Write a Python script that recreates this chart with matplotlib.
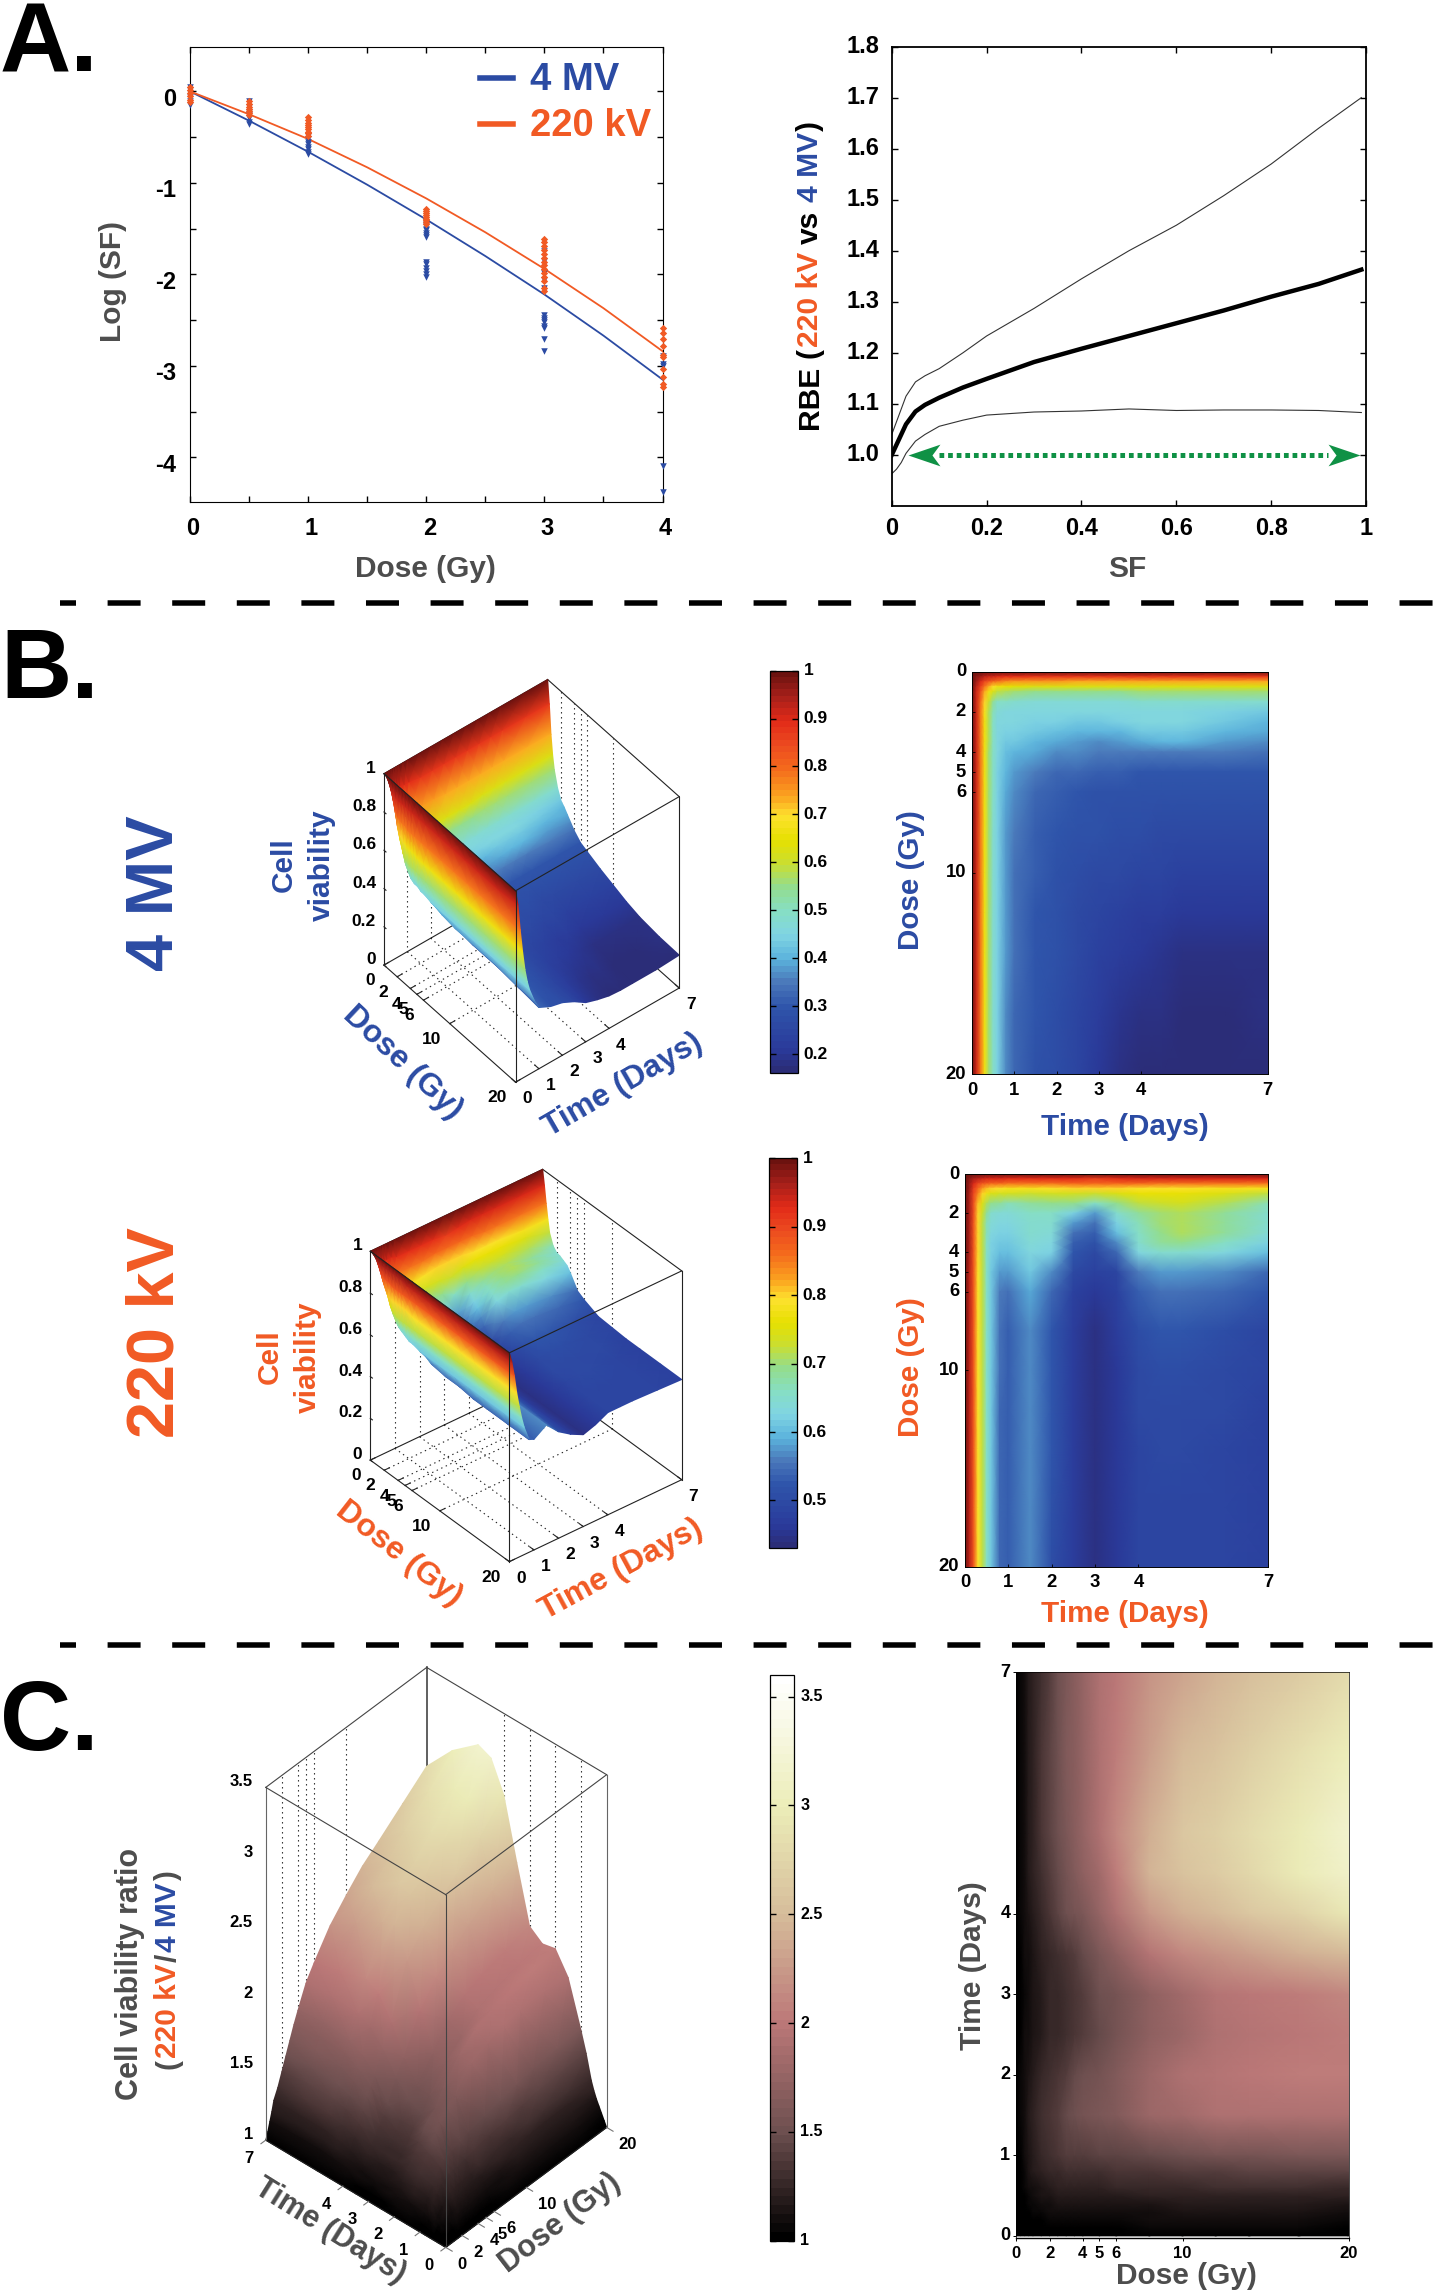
import numpy as np
import matplotlib
matplotlib.use("Agg")
import matplotlib.pyplot as plt
from matplotlib.colors import LinearSegmentedColormap, Normalize
from matplotlib.cm import ScalarMappable
from matplotlib.lines import Line2D
from matplotlib.path import Path as MplPath
from mpl_toolkits.mplot3d import proj3d

plt.rcParams['font.family'] = ['Liberation Sans', 'DejaVu Sans']
plt.rcParams['font.weight'] = 'bold'
plt.rcParams['lines.scale_dashes'] = False

W, H = 1435, 2291
BLUE = "#2b4ba3"
ORANGE = "#f15a24"
GRAY = "#4d4d4d"
GREEN = "#0f9145"

# ---- panel A data
FIT_DOSE = [0, 0.5, 1, 1.5, 2, 2.5, 3, 3.5, 4]
FIT_4MV = [0.0, -0.32, -0.66, -1.02, -1.40, -1.80, -2.22, -2.67, -3.15]
FIT_220KV = [0.0, -0.25, -0.52, -0.83, -1.17, -1.54, -1.94, -2.37, -2.84]

PTS_4MV_DOSE = [0]*6 + [0.5]*7 + [1]*8 + [2]*7 + [2]*6 + [3]*5 + [3]*8 + [4]*5
PTS_4MV_LOG = [0.05, 0.02, -0.02, -0.06, -0.1, -0.15,
               -0.11, -0.17, -0.22, -0.26, -0.29, -0.33, -0.36,
               -0.49, -0.52, -0.55, -0.58, -0.61, -0.63, -0.66, -0.68,
               -1.45, -1.47, -1.5, -1.52, -1.55, -1.57, -1.59,
               -1.86, -1.89, -1.93, -1.96, -2.0, -2.03,
               -1.74, -1.85, -1.98, -2.06, -2.15,
               -2.44, -2.48, -2.52, -2.56, -2.59, -2.71, -2.84, -2.5,
               -2.89, -2.98, -3.0, -4.09, -4.38]
PTS_220_DOSE = [0]*6 + [0.5]*7 + [1]*9 + [2]*9 + [3]*14 + [4]*10
PTS_220_LOG = [0.05, 0.02, -0.02, -0.05, -0.09, -0.12,
               -0.11, -0.14, -0.17, -0.19, -0.21, -0.24, -0.26,
               -0.28, -0.31, -0.34, -0.37, -0.39, -0.41, -0.44, -0.46, -0.49,
               -1.29, -1.31, -1.33, -1.35, -1.37, -1.39, -1.41, -1.43, -1.45,
               -1.61, -1.65, -1.69, -1.73, -1.78, -1.82, -1.86, -1.9, -1.94, -1.98,
               -2.03, -2.07, -2.15, -2.18,
               -2.59, -2.64, -2.71, -2.78, -2.88, -2.9, -3.03, -3.12, -3.2, -3.23]

SF = [0, 0.01, 0.02, 0.03, 0.05, 0.07, 0.1, 0.15, 0.2, 0.3, 0.4, 0.5, 0.6, 0.7, 0.8, 0.9, 0.99]
RBE_MEAN = [1.0, 1.02, 1.04, 1.06, 1.085, 1.098, 1.112, 1.132, 1.149, 1.182, 1.208, 1.233, 1.258, 1.283, 1.31, 1.335, 1.363]
RBE_HIGH = [1.04, 1.065, 1.09, 1.115, 1.143, 1.155, 1.169, 1.2, 1.233, 1.287, 1.345, 1.40, 1.45, 1.508, 1.57, 1.64, 1.70]
RBE_LOW = [0.963, 0.972, 0.985, 1.003, 1.027, 1.04, 1.056, 1.068, 1.078, 1.084, 1.086, 1.09, 1.087, 1.088, 1.088, 1.087, 1.083]

# ---- panels B and C data: viability on a dose x time grid
DOSE = [0, 0.25, 0.5, 0.75, 1, 1.5, 2, 2.5, 3, 3.5, 4, 5, 6, 8, 10, 12, 14, 17, 20]
TIME = [0, 0.1, 0.2, 0.3, 0.4, 0.5, 0.6, 0.8, 1, 1.5, 2, 2.5, 3, 3.5, 4, 4.5, 5, 6, 7]
DOSE_TICKS = [0, 2, 4, 5, 6, 10, 20]
TIME_TICKS = [0, 1, 2, 3, 4, 7]

VIAB_4MV = np.array([
    [1, 1, 1, 1, 1, 1, 1, 1, 1, 1, 1, 1, 1, 1, 1, 1, 1, 1, 1],
    [1, .97, .95, .93, .92, .91, .90, .89, .89, .88, .88, .88, .88, .88, .88, .88, .88, .88, .88],
    [1, .95, .90, .85, .82, .80, .78, .76, .75, .74, .74, .73, .73, .73, .73, .73, .73, .73, .73],
    [1, .93, .86, .78, .73, .69, .67, .65, .64, .63, .62, .62, .62, .62, .63, .63, .63, .63, .63],
    [1, .92, .83, .73, .66, .62, .59, .57, .56, .55, .55, .55, .55, .55, .56, .56, .56, .56, .56],
    [1, .91, .80, .70, .60, .54, .50, .49, .48, .47, .47, .47, .47, .47, .48, .48, .48, .48, .48],
    [1, .91, .79, .68, .58, .51, .47, .46, .46, .45, .45, .45, .45, .45, .45, .45, .45, .44, .43],
    [1, .91, .79, .67, .57, .50, .46, .45, .45, .44, .44, .43, .43, .44, .45, .45, .45, .43, .41],
    [1, .91, .78, .67, .57, .50, .46, .44, .44, .43, .42, .41, .40, .41, .43, .43, .43, .41, .385],
    [1, .91, .78, .67, .57, .49, .45, .43, .43, .41, .39, .38, .37, .38, .39, .40, .40, .38, .36],
    [1, .91, .78, .66, .56, .49, .45, .42, .41, .39, .37, .36, .35, .35, .35, .35, .35, .345, .335],
    [1, .91, .78, .66, .56, .49, .44, .40, .38, .35, .33, .32, .31, .31, .30, .30, .30, .30, .30],
    [1, .91, .78, .66, .56, .49, .44, .39, .37, .33, .31, .30, .29, .29, .285, .28, .28, .28, .285],
    [1, .91, .78, .66, .56, .48, .44, .38, .35, .31, .30, .29, .28, .275, .27, .265, .26, .26, .255],
    [1, .91, .78, .66, .56, .48, .44, .38, .34, .31, .29, .275, .265, .255, .245, .24, .235, .23, .23],
    [1, .91, .78, .66, .56, .48, .44, .38, .34, .30, .28, .265, .25, .235, .225, .215, .21, .205, .205],
    [1, .91, .78, .66, .56, .48, .44, .38, .34, .30, .28, .255, .235, .22, .205, .195, .185, .185, .187],
    [1, .91, .78, .66, .56, .48, .44, .37, .33, .30, .275, .25, .22, .20, .185, .175, .17, .17, .175],
    [1, .92, .78, .66, .56, .49, .44, .37, .32, .29, .275, .245, .205, .185, .17, .165, .165, .165, .172],
])

VIAB_220KV = np.array([
    [1, 1, 1, 1, 1, 1, 1, 1, 1, 1, 1, 1, 1, 1, 1, 1, 1, 1, 1],
    [1, .98, .96, .95, .94, .93, .93, .93, .92, .92, .92, .92, .91, .92, .93, .93, .93, .93, .93],
    [1, .97, .93, .90, .88, .87, .86, .86, .85, .85, .85, .86, .86, .86, .86, .85, .85, .85, .85],
    [1, .97, .91, .86, .83, .81, .80, .79, .78, .78, .79, .80, .80, .80, .79, .79, .79, .78, .78],
    [1, .96, .90, .84, .80, .77, .75, .74, .74, .73, .74, .74, .73, .75, .76, .76, .76, .75, .72],
    [1, .96, .89, .81, .75, .71, .69, .68, .67, .68, .69, .69, .66, .69, .72, .73, .74, .71, .67],
    [1, .96, .89, .80, .73, .68, .65, .64, .64, .66, .66, .62, .58, .65, .68, .70, .71, .68, .65],
    [1, .96, .88, .80, .72, .67, .64, .63, .63, .65, .65, .58, .55, .62, .67, .70, .71, .68, .645],
    [1, .96, .88, .80, .72, .67, .63, .62, .62, .645, .64, .55, .53, .60, .66, .69, .71, .68, .635],
    [1, .96, .88, .80, .72, .66, .62, .615, .61, .635, .63, .53, .515, .57, .65, .68, .69, .66, .625],
    [1, .96, .88, .80, .72, .66, .62, .60, .60, .63, .62, .52, .50, .54, .63, .65, .65, .63, .60],
    [1, .95, .88, .79, .72, .66, .61, .58, .58, .61, .57, .495, .48, .49, .56, .58, .58, .57, .54],
    [1, .95, .88, .79, .72, .66, .61, .56, .55, .59, .54, .48, .465, .48, .53, .55, .55, .54, .52],
    [1, .95, .88, .79, .72, .66, .61, .55, .53, .57, .52, .47, .445, .47, .51, .52, .52, .51, .49],
    [1, .95, .88, .79, .72, .66, .61, .55, .53, .57, .52, .47, .44, .46, .50, .51, .51, .50, .485],
    [1, .95, .88, .79, .72, .66, .61, .54, .53, .57, .52, .47, .44, .46, .495, .50, .50, .495, .48],
    [1, .95, .88, .79, .72, .66, .61, .54, .53, .57, .52, .47, .44, .46, .49, .495, .495, .49, .48],
    [1, .95, .88, .79, .72, .66, .61, .54, .53, .57, .515, .47, .44, .46, .49, .49, .49, .49, .48],
    [1, .95, .88, .79, .72, .66, .61, .54, .53, .57, .51, .47, .44, .46, .49, .49, .49, .485, .48],
])

RATIO = np.array([
    [1, 1, 1, 1, 1, 1, 1, 1, 1, 1, 1, 1, 1, 1, 1, 1, 1, 1, 1],
    [1, 1, 1, 1, 1.01, 1.01, 1.02, 1.03, 1.04, 1.05, 1.05, 1.04, 1.04, 1.04, 1.05, 1.05, 1.05, 1.05, 1.05],
    [1, 1, 1.01, 1.02, 1.03, 1.04, 1.05, 1.08, 1.11, 1.12, 1.11, 1.09, 1.08, 1.09, 1.1, 1.11, 1.12, 1.12, 1.11],
    [1, 1, 1.02, 1.03, 1.05, 1.07, 1.09, 1.13, 1.16, 1.17, 1.16, 1.12, 1.11, 1.12, 1.15, 1.17, 1.18, 1.18, 1.17],
    [1, 1.01, 1.03, 1.05, 1.07, 1.09, 1.12, 1.17, 1.2, 1.22, 1.2, 1.15, 1.15, 1.15, 1.2, 1.22, 1.24, 1.24, 1.24],
    [1, 1.01, 1.04, 1.07, 1.1, 1.13, 1.16, 1.22, 1.26, 1.29, 1.26, 1.2, 1.2, 1.21, 1.28, 1.31, 1.33, 1.33, 1.31],
    [1, 1.02, 1.05, 1.09, 1.12, 1.16, 1.2, 1.27, 1.3, 1.35, 1.3, 1.25, 1.25, 1.25, 1.35, 1.4, 1.42, 1.42, 1.4],
    [1, 1.02, 1.06, 1.09, 1.13, 1.17, 1.21, 1.28, 1.35, 1.4, 1.35, 1.27, 1.27, 1.3, 1.42, 1.47, 1.5, 1.51, 1.49],
    [1, 1.03, 1.07, 1.1, 1.14, 1.18, 1.22, 1.3, 1.38, 1.45, 1.4, 1.3, 1.3, 1.35, 1.5, 1.55, 1.6, 1.61, 1.58],
    [1, 1.03, 1.07, 1.1, 1.14, 1.18, 1.23, 1.31, 1.39, 1.5, 1.45, 1.35, 1.35, 1.4, 1.55, 1.62, 1.68, 1.69, 1.67],
    [1, 1.03, 1.07, 1.1, 1.15, 1.19, 1.23, 1.31, 1.4, 1.55, 1.5, 1.4, 1.4, 1.45, 1.6, 1.7, 1.75, 1.77, 1.75],
    [1, 1.04, 1.08, 1.11, 1.15, 1.2, 1.24, 1.32, 1.42, 1.6, 1.55, 1.45, 1.5, 1.6, 1.75, 1.85, 1.9, 1.91, 1.9],
    [1, 1.04, 1.08, 1.12, 1.16, 1.2, 1.25, 1.34, 1.44, 1.65, 1.65, 1.55, 1.55, 1.7, 1.9, 2.05, 2.1, 2.05, 2.0],
    [1, 1.05, 1.09, 1.12, 1.16, 1.21, 1.27, 1.36, 1.47, 1.8, 1.8, 1.7, 1.7, 1.95, 2.25, 2.45, 2.42, 2.3, 2.18],
    [1, 1.05, 1.09, 1.13, 1.17, 1.22, 1.28, 1.38, 1.5, 1.85, 1.9, 1.8, 1.85, 2.1, 2.4, 2.58, 2.6, 2.47, 2.31],
    [1, 1.05, 1.09, 1.14, 1.18, 1.23, 1.29, 1.4, 1.53, 1.9, 1.95, 1.9, 1.95, 2.2, 2.5, 2.65, 2.67, 2.58, 2.43],
    [1, 1.05, 1.1, 1.14, 1.19, 1.24, 1.3, 1.42, 1.55, 1.92, 1.98, 1.95, 2.0, 2.3, 2.6, 2.78, 2.8, 2.7, 2.52],
    [1, 1.05, 1.1, 1.14, 1.19, 1.24, 1.3, 1.43, 1.57, 1.92, 2.02, 2.0, 2.05, 2.42, 2.74, 2.95, 2.98, 2.85, 2.66],
    [1, 1.04, 1.08, 1.12, 1.16, 1.21, 1.27, 1.44, 1.58, 1.9, 2.05, 2.03, 2.1, 2.5, 2.92, 3.13, 3.17, 3.02, 2.8],
])

# colour scales, 64 levels like the original
JET_STOPS = [(0.0, "#2b2d78"), (0.05, "#2a3a9a"), (0.16, "#2f55ab"), (0.22, "#4a78ba"),
             (0.28, "#5bb3dc"), (0.34, "#80d5e3"), (0.40, "#86dec4"), (0.46, "#93dd8e"),
             (0.52, "#cade30"), (0.58, "#e6e000"), (0.64, "#fde12e"), (0.69, "#fba31f"),
             (0.76, "#f46a1c"), (0.82, "#ec4a20"), (0.88, "#e22a18"), (0.94, "#a8201a"),
             (1.0, "#6c120f")]
PINK_STOPS = [(0.0, "#000000"), (0.19, "#6e5050"), (0.385, "#bc7878"), (0.577, "#d6bc9a"),
              (0.77, "#ecedb8"), (1.0, "#ffffff")]
jet64 = LinearSegmentedColormap.from_list("jet64", JET_STOPS, N=64)
pink64 = LinearSegmentedColormap.from_list("pink64", PINK_STOPS, N=64)

fig = plt.figure(figsize=((W + 0.1) / 100, (H + 0.1) / 100), dpi=100)
renderer = fig.canvas.get_renderer()


def rect(x0, y0, x1, y1):
    return [x0 / W, 1 - y1 / H, (x1 - x0) / W, (y1 - y0) / H]


def put(x, y, s, **kw):
    kw.setdefault("ha", "center")
    kw.setdefault("va", "center")
    return fig.text(x / W, 1 - y / H, s, **kw)


def stacked(x, y_bottom, parts, size):
    # rotated label whose words have different colours
    y = y_bottom
    for s, c, gap in parts:
        t = put(x, y, s, rotation=90, va="bottom", color=c, fontsize=size)
        y -= t.get_window_extent(renderer).height + gap


def offset_label(ax, xy, s, dx, dy, coords="data", **kw):
    kw.setdefault("fontsize", 17)
    ax.annotate(s, xy=xy, xycoords=coords, xytext=(dx, dy), textcoords="offset pixels",
                annotation_clip=False, **kw)


# ---- panel letters and separators
for letter, base in (("A.", 71), ("B.", 698), ("C.", 1750)):
    put(0, base, letter, ha="left", va="baseline", fontsize=71, color="black")

for y in (603.5, 1644.7):
    fig.add_artist(Line2D([60 / W, 1], [1 - y / H, 1 - y / H], transform=fig.transFigure,
                          color="black", lw=3.96, dash_capstyle="butt",
                          linestyle=(12.24, (23.76, 22.75))))

# ---- A left, survival curves
ax = fig.add_axes(rect(190, 46.7, 662.5, 502.2))
ax.plot(FIT_DOSE, FIT_4MV, color=BLUE, lw=1.3)
ax.plot(FIT_DOSE, FIT_220KV, color=ORANGE, lw=1.3)
ax.scatter(PTS_4MV_DOSE, PTS_4MV_LOG, marker="v", s=22, color=BLUE, lw=0, clip_on=False, zorder=3)
ax.scatter(PTS_220_DOSE, PTS_220_LOG, marker="D", s=14, color=ORANGE, lw=0, clip_on=False, zorder=4)
ax.set_xlim(0, 4)
ax.set_ylim(-4.49, 0.49)
ax.set_xticks(np.arange(0, 4.1, 0.5))
ax.set_yticks(np.arange(-4, 0.1, 0.5))
ax.set_xticklabels([])
ax.set_yticklabels([])
ax.tick_params(direction="in", length=4, width=1, top=True, right=True)
for v in range(0, 5):
    offset_label(ax, (v, 0), str(v), 3, -26, coords=("data", "axes fraction"), ha="center", va="center")
for v in range(-4, 1):
    offset_label(ax, (0, v), str(v), -14, -8, coords=("axes fraction", "data"), ha="right", va="center")
put(425, 569, "Dose (Gy)", color=GRAY, fontsize=21.5)
put(112.5, 281, "Log (SF)", color=GRAY, fontsize=21.5, rotation=90)
fig.add_artist(Line2D([480 / W, 513 / W], [1 - 78 / H] * 2, transform=fig.transFigure, color=BLUE, lw=4))
fig.add_artist(Line2D([480 / W, 513 / W], [1 - 124 / H] * 2, transform=fig.transFigure, color=ORANGE, lw=4))
put(530, 80, "4 MV", ha="left", color=BLUE, fontsize=27.5)
put(530, 126, "220 kV", ha="left", color=ORANGE, fontsize=27.5)

# ---- A right, RBE
ax = fig.add_axes(rect(891.7, 46.7, 1366, 506))
ax.plot(SF, RBE_HIGH, color="#333333", lw=0.8)
ax.plot(SF, RBE_LOW, color="#333333", lw=0.8)
ax.plot(SF, RBE_MEAN, color="black", lw=3.2)
ax.plot([0.1, 0.92], [1, 1], color=GREEN, lw=3.6, linestyle=(0, (3.4, 2.8)), dash_capstyle="butt")
# swept arrow heads, tip of the path at the origin
head = MplPath([(0, 0), (1, 0.34), (0.75, 0), (1, -0.34), (0, 0)], closed=True)
head_r = MplPath([(0, 0), (-1, 0.34), (-0.75, 0), (-1, -0.34), (0, 0)], closed=True)
ax.plot([0.035], [1], marker=head, ms=46, color=GREEN, mew=0, clip_on=False)
ax.plot([0.988], [1], marker=head_r, ms=46, color=GREEN, mew=0, clip_on=False)
ax.set_xlim(0, 1)
ax.set_ylim(0.9, 1.8)
ax.set_xticks(np.arange(0, 1.01, 0.2))
ax.set_yticks(np.arange(1.0, 1.81, 0.1))
ax.set_xticklabels([])
ax.set_yticklabels([])
ax.tick_params(direction="in", length=4, width=1, top=True, right=True)
for s in ax.spines.values():
    s.set_linewidth(1.3)
for v, s in zip(np.arange(0, 1.01, 0.2), ["0", "0.2", "0.4", "0.6", "0.8", "1"]):
    offset_label(ax, (v, 0), s, 0, -22, coords=("data", "axes fraction"), ha="center", va="center")
for v in np.arange(1.0, 1.81, 0.1):
    offset_label(ax, (0, v), "%.1f" % v, -12, 0, coords=("axes fraction", "data"), ha="right", va="center")
put(1126.8, 569.4, "SF", color=GRAY, fontsize=21.5)
stacked(809.5, 429, [("RBE", "black", 8), ("(", "black", 1), ("220 kV", ORANGE, 8), ("vs", "black", 8),
                     ("4 MV", BLUE, 1), (")", "black", 0)], 21.6)


# ---- 3D helpers
def to_px(ax3, x, y, z):
    xs, ys, _ = proj3d.proj_transform(x, y, z, ax3.get_proj())
    p = ax3.transData.transform((xs, ys))
    return p[0], H + 0.1 - p[1]


def add_3d(xlim, ylim, zlim, elev, azim, aspect, pts_data, pts_px):
    # the box is placed so that two of its corners land on the reference pixels
    ax3 = fig.add_axes(rect(0, 0, 800, 800), projection="3d", computed_zorder=False)
    ax3.set_proj_type("ortho")
    ax3.view_init(elev=elev, azim=azim)
    ax3.set_box_aspect(aspect, zoom=0.6)
    ax3.set_xlim(*xlim)
    ax3.set_ylim(*ylim)
    ax3.set_zlim(*zlim)
    ax3.set_axis_off()
    ax3.patch.set_alpha(0)
    size, cx, cy = 800.0, 400.0, 400.0
    want = np.array(pts_px, float)
    for _ in range(5):
        ax3.set_position(rect(cx - size / 2, cy - size / 2, cx + size / 2, cy + size / 2))
        ax3.apply_aspect()
        got = np.array([to_px(ax3, *p) for p in pts_data])
        scale = np.linalg.norm(want[1] - want[0]) / np.linalg.norm(got[1] - got[0])
        mid = got.mean(axis=0)
        # scale about the middle of the two corners, then move them onto the target
        cx = mid[0] + (cx - mid[0]) * scale + want[:, 0].mean() - mid[0]
        cy = mid[1] + (cy - mid[1]) * scale + want[:, 1].mean() - mid[1]
        size *= scale
    ax3.set_position(rect(cx - size / 2, cy - size / 2, cx + size / 2, cy + size / 2))
    ax3.apply_aspect()
    return ax3


def seg(ax3, p, q, z=1, color="#222222", lw=0.8, ls="-"):
    ax3.plot([p[0], q[0]], [p[1], q[1]], [p[2], q[2]], color=color, lw=lw, ls=ls, zorder=z)


def surface_layer(ax3, M, cmap, norm, back_dose_first):
    # gouraud shaded mesh through the same projection; quads go back to front
    DD, TT = np.meshgrid(DOSE, TIME, indexing="ij")
    xs, ys, _ = proj3d.proj_transform(DD.ravel(), TT.ravel(), M.ravel().astype(float), ax3.get_proj())
    p = ax3.transData.transform(np.column_stack([xs, ys]))
    X2 = p[:, 0].reshape(M.shape)
    Y2 = (H + 0.1 - p[:, 1]).reshape(M.shape)
    lay = fig.add_axes([0, 0, 1, 1])
    lay.set_xlim(0, W)
    lay.set_ylim(H, 0)
    lay.set_axis_off()
    lay.patch.set_alpha(0)
    if back_dose_first:
        lay.pcolormesh(X2[:, ::-1], Y2[:, ::-1], M[:, ::-1], cmap=cmap, norm=norm, shading="gouraud")
    else:
        lay.pcolormesh(X2[::-1, ::-1], Y2[::-1, ::-1], M[::-1, ::-1], cmap=cmap, norm=norm, shading="gouraud")


DOT = (0, (1.0, 2.6))


def viability_3d(M, vmin, corners, elev, azim, aspect, color, labels):
    place = [(0, 0, 0), (20, 7, 0)]
    back = add_3d((0, 20), (0, 7), (0, 1), elev, azim, aspect, place, corners)
    # back of the box, under the surface
    seg(back, (0, 0, 1), (0, 7, 1))
    seg(back, (0, 7, 1), (20, 7, 1))
    seg(back, (0, 0, 0), (0, 7, 0))
    seg(back, (0, 7, 0), (20, 7, 0))
    for d in DOSE_TICKS[1:-1]:
        seg(back, (d, 0, 0), (d, 7, 0), ls=DOT)
        seg(back, (d, 7, 0), (d, 7, 1), ls=DOT)
    for t in TIME_TICKS[1:-1]:
        seg(back, (0, t, 0), (20, t, 0), ls=DOT)
        seg(back, (0, t, 0), (0, t, 1), ls=DOT)
    surface_layer(back, M, jet64, Normalize(vmin, 1), True)
    # front of the box, over the surface
    front = add_3d((0, 20), (0, 7), (0, 1), elev, azim, aspect, place, corners)
    seg(front, (0, 0, 0), (0, 0, 1))
    seg(front, (20, 7, 0), (20, 7, 1))
    seg(front, (20, 0, 0), (20, 0, 1))
    seg(front, (0, 0, 1), (20, 0, 1))
    seg(front, (20, 0, 1), (20, 7, 1))
    seg(front, (0, 0, 0), (20, 0, 0))
    seg(front, (20, 0, 0), (20, 7, 0))
    for v in Z_TICKS:
        seg(front, (0, 0, v), (0.3, 0, v))
        x, y = to_px(front, 0, 0, v)
        put(x - 8, y - 5.5, "%g" % v, ha="right", fontsize=12.5)
    for d in DOSE_TICKS:
        seg(front, (d, 0, 0), (d, 0.2, 0))
        x, y = to_px(front, d, 0, 0)
        put(x - 9, y + 15.5, str(d), ha="right", fontsize=12.5)
    for t in TIME_TICKS:
        seg(front, (20, t, 0), (19.4, t, 0))
        x, y = to_px(front, 20, t, 0)
        put(x + 11.5, y + 16.5, str(t), fontsize=12.5)
    for (s, x, y, rot, size) in labels:
        put(x, y, s, color=color, rotation=rot, fontsize=size)


Z_TICKS = [0, 0.2, 0.4, 0.6, 0.8, 1]

viability_3d(VIAB_4MV, 0.161, [(384, 965), (679.2, 988.3)], 45.7, -38.8, (1, 1, 1.305), BLUE,
             [("Dose (Gy)", 402.6, 1063, -43, 23), ("Time (Days)", 623.2, 1085, 30, 22.8)])
viability_3d(VIAB_220KV, 0.43, [(370.3, 1460), (681.7, 1480)], 36.1, -38.9, (1, 1, 1.167), ORANGE,
             [("Dose (Gy)", 399.3, 1554, -38, 23), ("Time (Days)", 621, 1570, 28.5, 23)])

put(156, 893, "4 MV", color=BLUE, fontsize=48, rotation=90)
put(156, 1332, "220 kV", color=ORANGE, fontsize=48, rotation=90)
put(303, 865, "Cell\nviability", color=BLUE, fontsize=21.5, rotation=90, multialignment="center", linespacing=1.45)
put(289, 1356.7, "Cell\nviability", color=ORANGE, fontsize=21.5, rotation=90, multialignment="center", linespacing=1.45)

# ---- C surface
place_c = [(0, 7, 1), (20, 0, 1)]
corners_c = [(265.8, 2140.9), (606.6, 2126.8)]
back_c = add_3d((0, 20), (0, 7), (1, 3.5), 41.8, -138.2, (1, 1, 1.96), place_c, corners_c)
seg(back_c, (0, 7, 3.5), (20, 7, 3.5), color="#444444")
seg(back_c, (20, 7, 3.5), (20, 0, 3.5), color="#444444")
seg(back_c, (20, 7, 1), (20, 7, 3.5), color="#444444", lw=1.2)
for d in DOSE_TICKS[1:-1]:
    seg(back_c, (d, 7, 1), (d, 7, 3.5), ls=DOT)
for t in TIME_TICKS[1:-1]:
    seg(back_c, (20, t, 1), (20, t, 3.5), ls=DOT)
surface_layer(back_c, RATIO, pink64, Normalize(1, 3.6), False)
front_c = add_3d((0, 20), (0, 7), (1, 3.5), 41.8, -138.2, (1, 1, 1.96), place_c, corners_c)
seg(front_c, (0, 7, 1), (0, 7, 3.5), color="#666666")
seg(front_c, (20, 0, 1), (20, 0, 3.5), color="#666666")
seg(front_c, (0, 0, 1), (0, 0, 3.5), color="#444444")
seg(front_c, (0, 0, 3.5), (0, 7, 3.5), color="#444444")
seg(front_c, (0, 0, 3.5), (20, 0, 3.5), color="#444444")
seg(front_c, (0, 0, 1), (0, 7, 1))
seg(front_c, (0, 0, 1), (20, 0, 1))
for v in [1, 1.5, 2, 2.5, 3, 3.5]:
    x, y = to_px(front_c, 0, 7, v)
    put(x - 13, y - 6, "%g" % v, ha="right", fontsize=12)
for t in TIME_TICKS:
    x, y = to_px(front_c, 0, t, 1)
    put(x - 16.6, y + 18, str(t), fontsize=12)
    seg(front_c, (0, t, 1), (-0.6, t, 1), color="#777777")
for d in DOSE_TICKS:
    x, y = to_px(front_c, d, 0, 1)
    put(x + 12, y + 17, str(d), ha="left", fontsize=12)
    seg(front_c, (d, 0, 1), (d, -0.25, 1), color="#777777")
put(330, 2231, "Time (Days)", color=GRAY, rotation=-32, fontsize=22)
put(560, 2223.4, "Dose (Gy)", color=GRAY, rotation=37.6, fontsize=22)
put(130, 1974, "Cell viability ratio", color=GRAY, rotation=90, fontsize=22)
stacked(168.4, 2068.5, [("(", GRAY, 1), ("220 kV", ORANGE, 1.5), ("/", GRAY, 1.5), ("4 MV", BLUE, 1), (")", GRAY, 0)], 21.5)


# ---- colour bars
def colorbar(box, cmap, vmin, vmax, ticks, size):
    cax = fig.add_axes(rect(*box))
    cb = fig.colorbar(ScalarMappable(Normalize(vmin, vmax), cmap), cax=cax, ticks=ticks)
    cb.outline.set_linewidth(0.9)
    cax.set_yticklabels([])
    cax.tick_params(direction="in", length=4, width=1, left=True, right=True)
    for v in ticks:
        offset_label(cax, (1, v), "%g" % v, 6, 0, coords=("axes fraction", "data"),
                     ha="left", va="center", fontsize=size)


colorbar((770.3, 670.7, 797.7, 1072.7), jet64, 0.161, 1, [0.2, 0.3, 0.4, 0.5, 0.6, 0.7, 0.8, 0.9, 1], 12.5)
colorbar((769.3, 1158.3, 796.7, 1548.3), jet64, 0.43, 1, [0.5, 0.6, 0.7, 0.8, 0.9, 1], 12.5)
colorbar((769.9, 1674.9, 794.4, 2240.7), pink64, 1, 3.6, [1, 1.5, 2, 2.5, 3, 3.5], 11.5)


# ---- heat maps
def heat_bt(box, M, vmin, color, dose_label_xy, time_label_xy):
    hax = fig.add_axes(rect(*box))
    hax.pcolormesh(TIME, DOSE, M, cmap=jet64, norm=Normalize(vmin, 1), shading="gouraud")
    hax.set_xlim(0, 7)
    hax.set_ylim(20, 0)
    hax.set_xticks(TIME_TICKS)
    hax.set_yticks(DOSE_TICKS)
    hax.set_xticklabels([])
    hax.set_yticklabels([])
    hax.tick_params(direction="in", length=2, width=0.6)
    for s in hax.spines.values():
        s.set_linewidth(0.7)
    for t in TIME_TICKS:
        offset_label(hax, (t, 0), str(t), 0, -16, coords=("data", "axes fraction"),
                     ha="center", va="center", fontsize=13.3)
    for d in DOSE_TICKS:
        offset_label(hax, (0, d), str(d), -6, 0, coords=("axes fraction", "data"),
                     ha="right", va="center", fontsize=13.3)
    put(*dose_label_xy, "Dose (Gy)", color=color, rotation=90, fontsize=21.3)
    put(*time_label_xy, "Time (Days)", color=color, fontsize=21.3)


heat_bt((972, 671.7, 1267.7, 1074), VIAB_4MV, 0.161, BLUE, (910.6, 880), (1125, 1126.7))
heat_bt((965, 1174, 1268.4, 1566.7), VIAB_220KV, 0.43, ORANGE, (910.6, 1366.7), (1125, 1614))

hax = fig.add_axes(rect(1016.2, 1672, 1348.7, 2238.3))
hax.pcolormesh(DOSE, TIME, RATIO.T, cmap=pink64, norm=Normalize(1, 3.6), shading="gouraud")
hax.set_xlim(0, 20)
hax.set_ylim(-0.03, 7)
hax.set_xticks(DOSE_TICKS)
hax.set_yticks(TIME_TICKS)
hax.set_xticklabels([])
hax.set_yticklabels([])
hax.tick_params(direction="out", length=2.5, width=0.7)
for name, s in hax.spines.items():
    s.set_linewidth(1.0 if name == "bottom" else 0.5)
for d in DOSE_TICKS:
    offset_label(hax, (d, 0), str(d), 0, -15, coords=("data", "axes fraction"),
                 ha="center", va="center", fontsize=12)
for t in TIME_TICKS:
    offset_label(hax, (0, t), str(t), -6, 0, coords=("axes fraction", "data"),
                 ha="right", va="center", fontsize=13)
put(973, 1966, "Time (Days)", color=GRAY, rotation=90, fontsize=21.5)
put(1186, 2275.7, "Dose (Gy)", color=GRAY, fontsize=21.5)

fig.savefig("out.png", dpi=100)
